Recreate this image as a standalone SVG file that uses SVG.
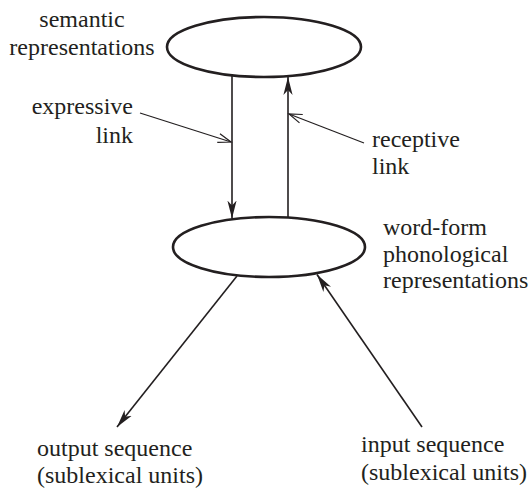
<svg xmlns="http://www.w3.org/2000/svg" width="530" height="491" viewBox="0 0 530 491">
<style>
.node { fill: none; stroke: #231f20; stroke-width: 2.6; }
.link { fill: none; stroke: #231f20; stroke-width: 1.6; }
.pointer { fill: none; stroke: #231f20; stroke-width: 1.2; }
.t { font-family: "Times New Roman", "Liberation Serif", Times, serif; font-size: 24px; fill: #231f20; }
</style>
<defs>
<marker id="solid" markerUnits="userSpaceOnUse" viewBox="-18 -6 20 12" refX="0" refY="0" markerWidth="20" markerHeight="12" orient="auto">
<path d="M0,0 L-18,-4.6 L-13,0 L-18,4.6 Z" fill="#231f20"/>
</marker>
<marker id="open" markerUnits="userSpaceOnUse" viewBox="-14 -6 16 12" refX="0" refY="0" markerWidth="16" markerHeight="12" orient="auto">
<path d="M-13,-4.5 L0,0 L-13,4.5" fill="none" stroke="#231f20" stroke-width="1.2"/>
</marker>
</defs>
<g id="semantic">
<ellipse class="node" cx="264" cy="47" rx="97" ry="30"/>
<text class="t" x="82" y="27" text-anchor="middle">semantic</text>
<text class="t" x="82" y="55" text-anchor="middle">representations</text>
</g>
<g id="wordform">
<ellipse class="node" cx="269" cy="247" rx="96" ry="30"/>
<text class="t" x="383" y="235">word-form</text>
<text class="t" x="383" y="262">phonological</text>
<text class="t" x="383" y="288">representations</text>
</g>
<g id="output">
<text class="t" x="37" y="456">output sequence</text>
<text class="t" x="37" y="483">(sublexical units)</text>
</g>
<g id="input">
<text class="t" x="361" y="452">input sequence</text>
<text class="t" x="361" y="480">(sublexical units)</text>
</g>
<g id="expressive-label">
<text class="t" x="133" y="114" text-anchor="end">expressive</text>
<text class="t" x="133" y="143" text-anchor="end">link</text>
</g>
<g id="receptive-label">
<text class="t" x="372" y="147">receptive</text>
<text class="t" x="372" y="174">link</text>
</g>
<g id="connectors">
<line class="link" x1="232" y1="75.5" x2="232" y2="218.5" marker-end="url(#solid)"/>
<line class="link" x1="288" y1="217.5" x2="288" y2="77" marker-end="url(#solid)"/>
<line class="link" x1="237" y1="276" x2="117" y2="427" marker-end="url(#solid)"/>
<line class="link" x1="422" y1="427" x2="317" y2="274.5" marker-end="url(#solid)"/>
<line class="pointer" x1="140" y1="113" x2="231" y2="142" marker-end="url(#open)"/>
<line class="pointer" x1="364" y1="143" x2="289" y2="114" marker-end="url(#open)"/>
</g>
</svg>
